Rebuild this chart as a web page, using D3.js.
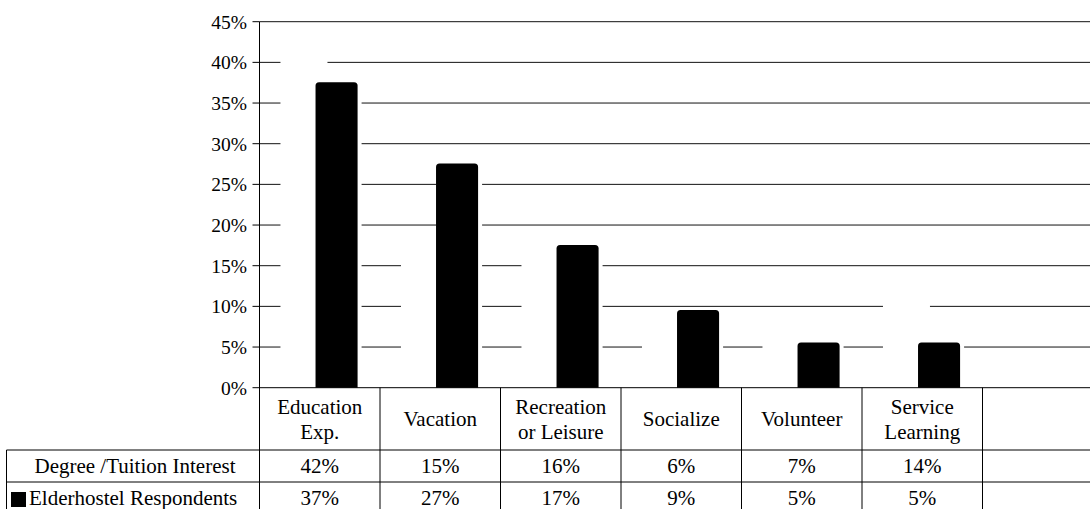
<!DOCTYPE html>
<html><head><meta charset="utf-8">
<script src="https://cdn.jsdelivr.net/npm/d3@7"></script>
<style>
html,body{margin:0;padding:0;background:#fff;}
svg{display:block;}
</style></head>
<body>
<svg id="chart" width="1090" height="509" font-family="'Liberation Serif', 'Times New Roman', Tinos, 'DejaVu Serif', serif"></svg>
<script>
// ---- data ----
const categories = ["Education Exp.", "Vacation", "Recreation or Leisure", "Socialize", "Volunteer", "Service Learning", ""];
const categoryLines = [["Education", "Exp."], ["Vacation"], ["Recreation", "or Leisure"], ["Socialize"], ["Volunteer"], ["Service", "Learning"], []];
const seriesNames = ["Degree /Tuition Interest", "Elderhostel Respondents"];
const degreeValues = [42, 15, 16, 6, 7, 14];
const elderValues = [37, 27, 17, 9, 5, 5];
const yTicks = [0, 5, 10, 15, 20, 25, 30, 35, 40, 45];

// ---- layout ----
const W = 1090, H = 509;
const plotLeft = 259.5, catW = 120.5;
const yTop = 21.7, yBase = 387.7;
const headerBottom = 450, row1Bottom = 482, row2Bottom = 514;
const fontSize = 21, axisFontSize = 19.5;
const FONT = "'Liberation Serif', 'Times New Roman', Tinos, 'DejaVu Serif', serif";

const svg = d3.select("#chart");
svg.append("rect").attr("width", W).attr("height", H).attr("fill", "#fff");

const x = d3.scaleBand().domain(categories.map((c, i) => i)).range([plotLeft, plotLeft + catW * categories.length]).padding(0);
const y = d3.scaleLinear().domain([0, 45]).range([yBase, yTop]);
const bw = x.bandwidth();

// gridlines
svg.append("g").selectAll("line").data(yTicks.filter(t => t > 0)).join("line")
  .attr("x1", plotLeft).attr("x2", plotLeft + catW * categories.length)
  .attr("y1", d => y(d)).attr("y2", d => y(d))
  .attr("stroke", "#111").attr("stroke-width", 1);

// Degree series: white bars (hide gridlines)
const wOff = bw * 0.174, wWidth = bw * 0.39;
svg.append("g").selectAll("rect").data(degreeValues).join("rect")
  .attr("x", (d, i) => x(i) + wOff).attr("width", wWidth)
  .attr("y", d => y(d) - 4.5).attr("height", d => yBase - y(d) + 4.5)
  .attr("fill", "#fff");

// Elderhostel series: black bars with rounded top
const bOff = bw * 0.465, bWidth = bw * 0.349, halo = 4;
svg.append("g").selectAll("rect").data(elderValues).join("rect")
  .attr("x", (d, i) => x(i) + bOff).attr("width", bWidth + halo)
  .attr("y", d => y(d) - 4.5).attr("height", d => yBase - y(d) + 4.5)
  .attr("fill", "#fff");
function barPath(x0, w, top, bottom, r) {
  const p = d3.path();
  p.moveTo(x0, bottom);
  p.lineTo(x0, top + r);
  p.arcTo(x0, top, x0 + r, top, r);
  p.lineTo(x0 + w - r, top);
  p.arcTo(x0 + w, top, x0 + w, top + r, r);
  p.lineTo(x0 + w, bottom);
  p.closePath();
  return p.toString();
}
svg.append("g").selectAll("path").data(elderValues).join("path")
  .attr("d", (d, i) => barPath(x(i) + bOff, bWidth, y(d) - 4.5, yBase, 3.5))
  .attr("fill", "#000");

// y axis
const ax = svg.append("g");
ax.append("line").attr("x1", plotLeft).attr("x2", plotLeft).attr("y1", yTop).attr("y2", row2Bottom)
  .attr("stroke", "#000");
ax.selectAll("line.tick").data(yTicks).join("line").attr("class", "tick")
  .attr("x1", plotLeft - 7).attr("x2", plotLeft).attr("y1", d => y(d)).attr("y2", d => y(d))
  .attr("stroke", "#000");
ax.selectAll("text").data(yTicks).join("text")
  .attr("x", 247).attr("y", d => y(d)).attr("dy", "0.35em")
  .attr("text-anchor", "end").attr("font-size", axisFontSize).attr("font-family", FONT)
  .text(d => d + "%");

// baseline
svg.append("line").attr("x1", plotLeft).attr("x2", plotLeft + catW * categories.length)
  .attr("y1", yBase).attr("y2", yBase).attr("stroke", "#000");

// data table
const tbl = svg.append("g").attr("font-family", FONT);
const tableRight = plotLeft + catW * categories.length;
const leftEdge = 6.5;
[headerBottom, row1Bottom].forEach(yy => {
  tbl.append("line").attr("x1", leftEdge).attr("x2", tableRight).attr("y1", yy).attr("y2", yy).attr("stroke", "#000");
});
tbl.append("line").attr("x1", leftEdge).attr("x2", leftEdge).attr("y1", headerBottom).attr("y2", row2Bottom).attr("stroke", "#000");
tbl.selectAll("line.col").data(categories.map((c, i) => i + 1)).join("line").attr("class", "col")
  .attr("x1", d => plotLeft + catW * d).attr("x2", d => plotLeft + catW * d)
  .attr("y1", yBase).attr("y2", row2Bottom).attr("stroke", "#000");

// header labels
categoryLines.forEach((lines, i) => {
  const cx = x(i) + bw / 2;
  const cy = (yBase + headerBottom) / 2;
  const lh = 25;
  lines.forEach((ln, j) => {
    tbl.append("text").attr("x", cx).attr("y", cy + (j - (lines.length - 1) / 2) * lh)
      .attr("dy", "0.35em").attr("text-anchor", "middle").attr("font-size", fontSize).text(ln);
  });
});

// rows
const rows = [degreeValues, elderValues];
rows.forEach((vals, r) => {
  const top = r === 0 ? headerBottom : row1Bottom;
  const cy = top + 16;
  vals.forEach((v, i) => {
    tbl.append("text").attr("x", x(i) + bw / 2).attr("y", cy).attr("dy", "0.35em")
      .attr("text-anchor", "middle").attr("font-size", fontSize).text(v + "%");
  });
  if (r === 1) {
    tbl.append("rect").attr("x", 11).attr("y", cy - 6).attr("width", 15).attr("height", 15).attr("fill", "#000");
    tbl.append("text").attr("x", 29).attr("y", cy).attr("dy", "0.35em").attr("font-size", fontSize).text(seriesNames[r]);
  } else {
    tbl.append("text").attr("x", (leftEdge + plotLeft) / 2 + 2).attr("y", cy).attr("dy", "0.35em")
      .attr("text-anchor", "middle").attr("font-size", fontSize).text(seriesNames[r]);
  }
});
</script>
</body></html>
